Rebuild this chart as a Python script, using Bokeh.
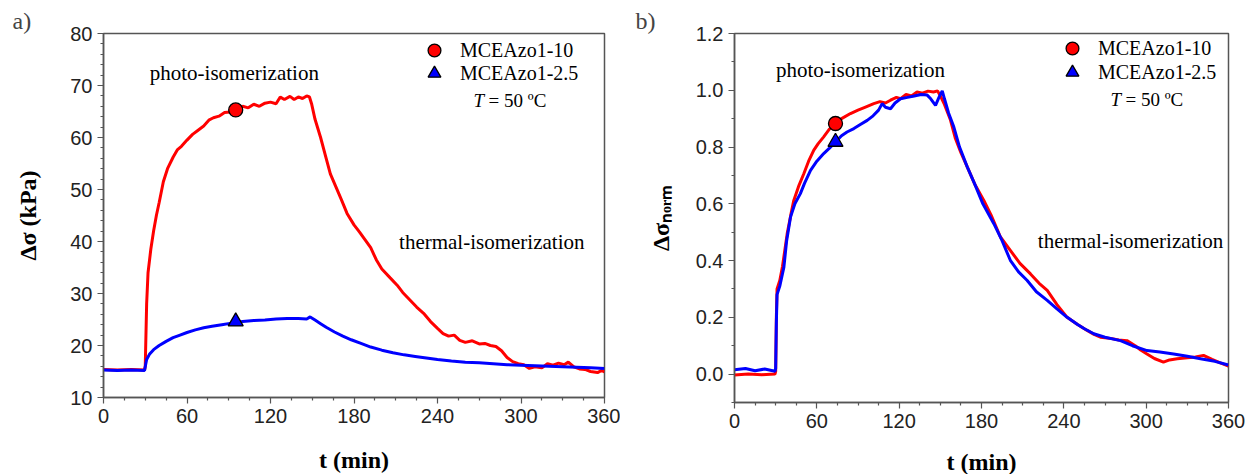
from bokeh.plotting import figure
from bokeh.layouts import row
from bokeh.models import Range1d, FixedTicker, Label, Legend, LegendItem, PrintfTickFormatter
from bokeh.embed import file_html
from bokeh.resources import INLINE

# ---------------- data ----------------
x_ticks = [0, 60, 120, 180, 240, 300, 360]
x_minor = [15, 30, 45, 75, 90, 105, 135, 150, 165, 195, 210, 225, 255, 270, 285, 315, 330, 345]

ya_ticks = [10, 20, 30, 40, 50, 60, 70, 80]
ya_minor = [v for v in range(10, 81, 2) if v % 10 != 0]
yb_ticks = [0.0, 0.2, 0.4, 0.6, 0.8, 1.0, 1.2]
yb_minor = [-0.1, 0.1, 0.3, 0.5, 0.7, 0.9, 1.1]

# panel a : MCEAzo1-10 (red)
ta_red = [0, 10, 20, 29.5, 30, 31, 32, 34, 36, 38, 40, 43, 46, 50, 53, 56, 60, 64, 67.5, 72, 76, 79, 83, 87,
          91, 95, 100, 104, 108, 112, 116, 120, 124, 127, 130, 134, 137, 140, 143, 146, 148, 149.5, 152, 156,
          160, 163, 167, 171, 175, 180, 184, 188, 192, 196, 200, 206, 211, 215, 220, 225, 230, 235, 240, 244,
          248, 252, 256, 260, 265, 270, 274, 278, 282, 286, 290, 294, 298, 302, 306, 310, 315, 319, 323, 327,
          331, 334, 338, 342, 346, 350, 355, 358, 360]
sa_red = [15.4, 15.3, 15.4, 15.3, 16.0, 28.0, 34.0, 38.5, 42.0, 45.0, 47.5, 51.5, 54.0, 56.2, 57.6, 58.3, 59.5,
          60.6, 61.3, 62.2, 63.4, 63.8, 64.1, 64.8, 64.9, 65.3, 66.0, 65.7, 66.4, 66.0, 66.6, 66.8, 66.5, 67.8,
          67.3, 67.9, 67.3, 67.8, 67.5, 68.0, 67.8, 66.5, 63.5, 60.0, 56.0, 53.0, 50.5, 48.0, 45.4, 43.2, 41.8,
          40.3, 38.8, 36.5, 34.7, 33.0, 31.6, 30.2, 28.8, 27.4, 26.2, 24.6, 23.3, 22.3, 21.8, 22.0, 21.0, 20.6,
          20.9, 20.3, 20.4, 20.0, 19.8, 19.0, 17.7, 16.9, 16.5, 16.3, 15.6, 15.9, 15.7, 16.5, 16.2, 16.6, 16.3,
          16.8, 15.9, 15.5, 15.4, 15.0, 14.8, 15.2, 14.9]

# panel a : MCEAzo1-2.5 (blue)
ta_blue = [0, 10, 20, 29.5, 30.2, 31, 33, 36, 40, 45, 50, 55, 60, 66, 72, 78, 85, 92, 100, 108, 116, 124, 132,
           140, 146, 148.5, 152, 156, 160, 166, 172, 178, 185, 192, 200, 208, 216, 224, 232, 240, 250, 260, 270,
           280, 290, 300, 310, 320, 330, 340, 350, 360]
sa_blue = [15.3, 15.2, 15.3, 15.2, 16.2, 17.3, 18.3, 19.2, 20.0, 20.8, 21.5, 22.0, 22.5, 23.0, 23.4, 23.7, 24.0,
           24.3, 24.6, 24.8, 24.9, 25.1, 25.2, 25.2, 25.1, 25.5, 24.9, 24.2, 23.5, 22.6, 21.8, 21.1, 20.4, 19.7,
           19.1, 18.6, 18.2, 17.9, 17.6, 17.3, 17.0, 16.8, 16.7, 16.5, 16.3, 16.2, 16.1, 16.0, 15.9, 15.8, 15.7,
           15.6]

# panel b : normalized, red
tb_red = [0, 10, 20, 29.5, 30, 30.5, 31, 33, 35, 38.4, 41, 43.2, 47, 50.5, 54, 57.8, 61, 65, 69, 73.6, 78, 84.5,
          90, 95, 101.5, 106, 110, 113.7, 118, 121, 125, 129, 133, 137, 141, 145, 148, 150, 153, 157.4, 161, 165,
          169.6, 175, 181.7, 187, 193.8, 201, 208, 215.7, 222, 227.9, 235, 242.4, 250, 257, 262, 266.7, 275, 280,
          286, 292, 296, 300.6, 306, 312.6, 317, 322.6, 330, 336, 341.8, 348, 354, 360]
nb_red = [-0.003, 0.0, -0.002, 0.0, 0.01, 0.2, 0.3, 0.33, 0.38, 0.495, 0.56, 0.612, 0.665, 0.706, 0.75, 0.789,
          0.812, 0.836, 0.862, 0.883, 0.9, 0.918, 0.93, 0.94, 0.953, 0.96, 0.955, 0.965, 0.975, 0.97, 0.985, 0.98,
          0.994, 0.99, 0.997, 0.994, 0.998, 0.98, 0.95, 0.895, 0.83, 0.78, 0.73, 0.67, 0.612, 0.56, 0.483, 0.436,
          0.39, 0.353, 0.32, 0.295, 0.245, 0.2, 0.175, 0.154, 0.14, 0.13, 0.125, 0.12, 0.118, 0.1, 0.085, 0.071,
          0.055, 0.042, 0.05, 0.054, 0.058, 0.06, 0.066, 0.052, 0.04, 0.028]

# panel b : normalized, blue
tb_blue = [0, 8, 15, 22, 29.5, 30, 30.5, 31, 33, 36, 38, 40.8, 44, 48, 51, 55.4, 60, 65, 69, 73.6, 78, 82, 87, 92,
           96.7, 101, 105, 107.6, 110, 113.7, 117, 121, 126, 131, 136, 140.4, 143, 146.5, 149, 151.4, 153, 156,
           159.8, 164, 169.6, 175, 181, 189, 195, 201, 207, 213.3, 220, 227.9, 235, 242.4, 250, 255, 261.8, 270,
           281.3, 290, 300.6, 310, 320, 330, 339.6, 350, 360]
nb_blue = [0.015, 0.02, 0.012, 0.018, 0.01, 0.02, 0.18, 0.28, 0.31, 0.377, 0.47, 0.553, 0.6, 0.636, 0.672, 0.718,
           0.75, 0.777, 0.795, 0.818, 0.84, 0.853, 0.865, 0.88, 0.894, 0.91, 0.93, 0.953, 0.94, 0.935, 0.955, 0.97,
           0.975, 0.98, 0.985, 0.983, 0.97, 0.947, 0.975, 0.998, 0.97, 0.92, 0.871, 0.8, 0.73, 0.67, 0.6, 0.53,
           0.47, 0.401, 0.36, 0.33, 0.29, 0.26, 0.23, 0.2, 0.175, 0.16, 0.142, 0.13, 0.118, 0.1, 0.083, 0.078,
           0.071, 0.063, 0.054, 0.045, 0.032]

# highlighted points
mark_a_t = [95]
mark_a_red = [65.3]
mark_a_blue = [24.6]
mark_b_t = [73.6]
mark_b_red = [0.883]
mark_b_blue = [0.818]

labels_series = ["MCEAzo1-10", "MCEAzo1-2.5"]

# ---------------- styling ----------------
SERIF = "Liberation Serif"
SANS = "Liberation Sans"
RED = "#ff0000"
BLUE = "#0000ff"
AX = "#555555"


def style(p, yt, ym, xlabel, ylabel, xstandoff, ystandoff, yfmt=None):
    p.grid.visible = False
    p.outline_line_color = AX
    p.outline_line_width = 1.5
    p.background_fill_color = "white"
    p.border_fill_color = "white"
    p.xaxis.ticker = FixedTicker(ticks=x_ticks, minor_ticks=x_minor)
    p.yaxis.ticker = FixedTicker(ticks=yt, minor_ticks=ym)
    if yfmt:
        p.yaxis.formatter = yfmt
    for ax in (p.xaxis, p.yaxis):
        ax.axis_line_color = AX
        ax.axis_line_width = 1.5
        ax.major_tick_line_color = AX
        ax.minor_tick_line_color = AX
        ax.major_tick_line_width = 1.2
        ax.minor_tick_line_width = 1.2
        ax.major_tick_out = 6
        ax.major_tick_in = 0
        ax.minor_tick_out = 3
        ax.minor_tick_in = 0
        ax.major_label_text_font = SANS
        ax.major_label_text_font_size = "20px"
        ax.major_label_text_color = "#222222"
        ax.major_label_standoff = 5
        ax.axis_label_text_font = SERIF
        ax.axis_label_text_font_style = "bold"
        ax.axis_label_text_font_size = "24px"
        ax.axis_label_text_color = "black"
    p.xaxis.axis_label = xlabel
    p.xaxis.axis_label_standoff = xstandoff
    p.yaxis.axis_label = ylabel
    p.yaxis.axis_label_standoff = ystandoff


def txt(p, x, y, s, size="21px", style_="normal", align="center", baseline="middle", x_offset=0):
    p.add_layout(Label(x=x, y=y, text=s, text_font=SERIF, text_font_size=size, text_font_style=style_,
                       text_align=align, text_baseline=baseline, x_offset=x_offset, text_color="black"))


def legend_item(p, label, r, loc):
    lg = Legend(items=[LegendItem(label=label, renderers=[r])],
                location=loc, glyph_width=32, glyph_height=32, spacing=0, padding=0, margin=0,
                label_standoff=10, label_text_font=SERIF, label_text_font_size="20px",
                label_text_color="black", border_line_alpha=0, background_fill_alpha=0)
    p.add_layout(lg)


def panel_title(p, text, offset):
    p.title.text = text
    p.title.text_font = SERIF
    p.title.text_font_size = "24px"
    p.title.text_font_style = "normal"
    p.title.align = "left"
    p.title.offset = offset
    p.title.standoff = 0


# ---------------- panel a ----------------
pa = figure(frame_width=501, frame_height=364, min_border_left=103, min_border_right=16,
            min_border_top=33, min_border_bottom=76, x_range=Range1d(0, 360), y_range=Range1d(10, 80),
            output_backend="svg", toolbar_location=None, tools="")
style(pa, ya_ticks, ya_minor, "t (min)", "Δσ (kPa)", 21, 26)
panel_title(pa, "a)", -91)
pa.line(ta_red, sa_red, line_color=RED, line_width=3)
pa.line(ta_blue, sa_blue, line_color=BLUE, line_width=3)
ca = pa.scatter(mark_a_t, mark_a_red, marker="circle", size=14, fill_color=RED, line_color="black", line_width=1.3)
ta = pa.scatter(mark_a_t, mark_a_blue, marker="triangle", size=15, fill_color=BLUE, line_color="black", line_width=1.3)
legend_item(pa, labels_series[0], ca, (315, 331))
legend_item(pa, labels_series[1], ta, (315, 308))
txt(pa, 94, 72.5, "photo-isomerization")
txt(pa, 279, 40, "thermal-isomerization")
txt(pa, 265.9, 67.1, "T", size="19px", style_="italic", align="left")
txt(pa, 265.9, 67.1, "= 50 ºC", size="19px", align="left", x_offset=15)

# ---------------- panel b ----------------
pb = figure(frame_width=494, frame_height=369, min_border_left=114, min_border_right=20,
            min_border_top=27, min_border_bottom=77, x_range=Range1d(0, 360), y_range=Range1d(-0.1, 1.2),
            output_backend="svg", toolbar_location=None, tools="")
style(pb, yb_ticks, yb_minor, "t (min)", "Δσₙₒᵣₘ", 18, 19, PrintfTickFormatter(format="%.1f"))
panel_title(pb, "b)", -99)
pb.line(tb_red, nb_red, line_color=RED, line_width=3)
pb.line(tb_blue, nb_blue, line_color=BLUE, line_width=3)
cb = pb.scatter(mark_b_t, mark_b_red, marker="circle", size=14, fill_color=RED, line_color="black", line_width=1.3)
tbm = pb.scatter(mark_b_t, mark_b_blue, marker="triangle", size=15, fill_color=BLUE, line_color="black", line_width=1.3)
legend_item(pb, labels_series[0], cb, (322, 338))
legend_item(pb, labels_series[1], tbm, (322, 314))
txt(pb, 91.8, 1.071, "photo-isomerization")
txt(pb, 288.6, 0.469, "thermal-isomerization")
txt(pb, 274, 0.966, "T", size="19px", style_="italic", align="left")
txt(pb, 274, 0.966, "= 50 ºC", size="19px", align="left", x_offset=15)

layout = row(pa, pb)
open("out.html", "w").write(file_html(layout, INLINE))
